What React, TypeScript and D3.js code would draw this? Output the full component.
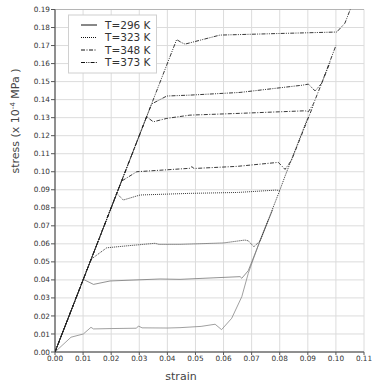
import React from "react";
import { scaleLinear, line, range } from "d3";

// strain / stress (x 10^-4 MPa) pairs
const c296a: [number, number][] = [
  [0, 0], [0.0057, 0.0082], [0.0101, 0.0100], [0.0128, 0.0137], [0.0137, 0.0128],
  [0.02, 0.0130], [0.029, 0.0132], [0.0297, 0.0144], [0.031, 0.0134], [0.04, 0.0133],
  [0.0445, 0.0135], [0.052, 0.0142], [0.057, 0.0154], [0.0593, 0.0124], [0.0629, 0.0187],
  [0.0665, 0.0307], [0.0688, 0.0436], [0.073, 0.062], [0.0759, 0.0732],
];
const c296b: [number, number][] = [
  [0, 0], [0.0101, 0.0403], [0.0137, 0.0375], [0.0196, 0.0394], [0.0374, 0.0405],
  [0.0445, 0.0403], [0.0659, 0.0418], [0.0665, 0.0409], [0.0688, 0.0451], [0.073, 0.0616],
  [0.0775, 0.079],
];
const c323a: [number, number][] = [
  [0, 0], [0.0128, 0.0512], [0.0135, 0.0522], [0.0184, 0.0578], [0.025, 0.0588],
  [0.0356, 0.0603], [0.037, 0.0597], [0.0445, 0.0597], [0.06, 0.0605], [0.0676, 0.0621],
  [0.0688, 0.0617], [0.0708, 0.0584], [0.073, 0.0616], [0.08, 0.0896],
];
const c323b: [number, number][] = [
  [0, 0], [0.022, 0.088], [0.0243, 0.0843], [0.0303, 0.0871], [0.048, 0.088],
  [0.065, 0.0885], [0.0785, 0.0898], [0.08, 0.0896], [0.082, 0.098], [0.09, 0.13],
];
const c348a: [number, number][] = [
  [0, 0], [0.0237, 0.0948], [0.0291, 0.1], [0.048, 0.1019], [0.0487, 0.1028],
  [0.0495, 0.1018], [0.065, 0.103], [0.0795, 0.1052], [0.0819, 0.1013], [0.0842, 0.1064],
  [0.092, 0.137],
];
const c348b: [number, number][] = [
  [0, 0], [0.0326, 0.1305], [0.035, 0.1277], [0.0398, 0.1296], [0.048, 0.1314],
  [0.0659, 0.1324], [0.089, 0.1338], [0.0902, 0.1333], [0.092, 0.1376], [0.098, 0.161],
];
const c373a: [number, number][] = [
  [0, 0], [0.0344, 0.1376], [0.0398, 0.142], [0.048, 0.1425], [0.0659, 0.144],
  [0.088, 0.148], [0.0902, 0.1486], [0.0926, 0.1448], [0.0949, 0.149], [0.1, 0.17],
];
const c373b: [number, number][] = [
  [0, 0], [0.0433, 0.1733], [0.0451, 0.1716], [0.0463, 0.1708], [0.0587, 0.1758],
  [0.0801, 0.1767], [0.1003, 0.1775], [0.1032, 0.1824], [0.1051, 0.19],
];

const legendLabels = ["T=296 K", "T=323 K", "T=348 K", "T=373 K"];
const xTicks = range(0, 12).map((i) => i / 100);
const yTicks = range(0, 20).map((i) => i / 100);

const dashes = ["none", "1,1", "4,1.5,1,1.5", "4,1.2,1,1.2,1,1.2"];

const curves = [
  { d: c296a, s: 0, color: "#888", w: 0.8 },
  { d: c296b, s: 0, color: "#777", w: 0.8 },
  { d: c323a, s: 1, color: "#222", w: 0.9 },
  { d: c323b, s: 1, color: "#222", w: 0.9 },
  { d: c348a, s: 2, color: "#222", w: 0.9 },
  { d: c348b, s: 2, color: "#222", w: 0.9 },
  { d: c373a, s: 3, color: "#222", w: 0.9 },
  { d: c373b, s: 3, color: "#222", w: 0.9 },
];

export default function App() {
  const left = 55, right = 364, top = 9.5, bottom = 352;
  const x = scaleLinear().domain([0, 0.11]).range([left, right]);
  const y = scaleLinear().domain([0, 0.19]).range([bottom, top]);
  const path = line<[number, number]>()
    .x((d) => x(d[0]))
    .y((d) => y(d[1]));
  const fmt = (v: number) => v.toFixed(2);

  return (
    <svg width={377} height={388} style={{ position: "absolute", left: 0, top: 0, background: "#fff" }}
      fontFamily="DejaVu Sans, sans-serif">
      <defs>
        <clipPath id="plot">
          <rect x={left} y={top - 1} width={right - left + 1} height={bottom - top + 1} />
        </clipPath>
      </defs>
      {/* grid */}
      {xTicks.map((t) => (
        <line key={"gx" + t} x1={x(t)} x2={x(t)} y1={top} y2={bottom} stroke="#dcdcdc" strokeWidth={1} />
      ))}
      {yTicks.map((t, i) => (
        <line key={"gy" + t} x1={left} x2={right} y1={y(t)} y2={y(t)}
          stroke={i === yTicks.length - 1 ? "#b5b5b5" : "#dcdcdc"} strokeWidth={1} />
      ))}
      {/* curves */}
      <g clipPath="url(#plot)" fill="none">
        {curves.map((c, i) => (
          <path key={i} d={path(c.d) || ""} stroke={c.color} strokeWidth={c.w}
            strokeDasharray={dashes[c.s]} />
        ))}
      </g>
      {/* axes */}
      <line x1={left} x2={left} y1={top} y2={bottom} stroke="#333" strokeWidth={1} />
      <line x1={left} x2={right} y1={bottom} y2={bottom} stroke="#333" strokeWidth={1} />
      {yTicks.map((t) => (
        <g key={"ty" + t}>
          <line x1={left - 4} x2={left} y1={y(t)} y2={y(t)} stroke="#555" />
          <text x={left - 5} y={y(t)} dy="0.35em" textAnchor="end" fontSize={7.3} fill="#333">{fmt(t)}</text>
        </g>
      ))}
      {xTicks.map((t) => (
        <g key={"tx" + t}>
          <line x1={x(t)} x2={x(t)} y1={bottom} y2={bottom + 3} stroke="#555" />
          <text x={x(t)} y={bottom + 9} textAnchor="middle" fontSize={7.3} fill="#333">{fmt(t)}</text>
        </g>
      ))}
      <text x={181} y={380} textAnchor="middle" fontSize={11} fill="#444">strain</text>
      <text transform="translate(19,121) rotate(-90)" textAnchor="middle" fontSize={11} fill="#444">
        stress (x 10<tspan dy="-4" fontSize={7}>-4</tspan><tspan dy="4"> MPa )</tspan>
      </text>
      {/* legend */}
      <rect x={68.5} y={15} width={88} height={58} fill="#fff" stroke="#d0d0d0" />
      {legendLabels.map((l, i) => (
        <g key={l}>
          <line x1={81} x2={97} y1={25 + i * 12.5} y2={25 + i * 12.5} stroke="#111" strokeWidth={1}
            strokeDasharray={dashes[i]} />
          <text x={105} y={25 + i * 12.5} dy="0.35em" fontSize={10.5} fill="#333">{l}</text>
        </g>
      ))}
    </svg>
  );
}
